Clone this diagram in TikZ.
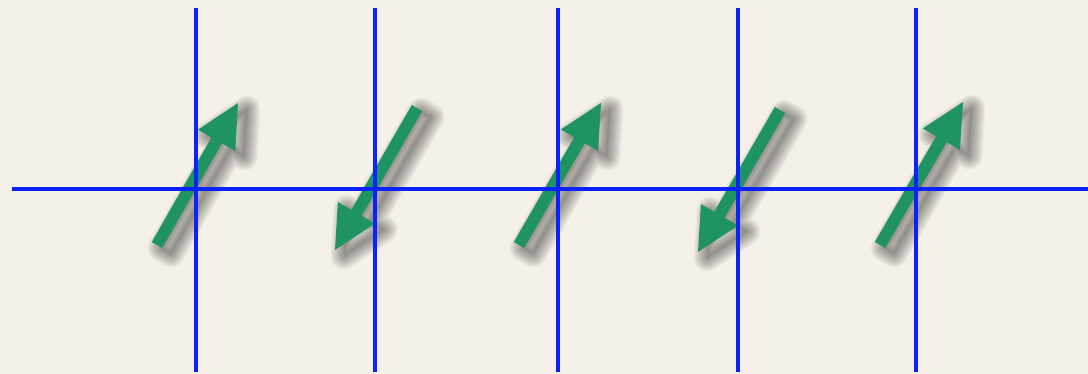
\documentclass[tikz,border=0pt]{standalone}
\usetikzlibrary{calc}
\definecolor{bg}{HTML}{F5F1EA}
\definecolor{spin}{HTML}{1F9462}
\definecolor{gridblue}{HTML}{0A22FF}
\tikzset{
  spinarrow/.style={fill=spin, draw=none},
  softshadow/.style={draw=black, draw opacity=0.032, line join=round, line width=#1},
  gridline/.style={draw=gridblue, line width=4.5pt}
}
\newcommand\spinpoly[2]{($(#1)!6pt!90:(#2)$) -- ($(b#1)!6pt!90:(#2)$) -- ($(b#1)!21.5pt!90:(#2)$)
    -- (#2) -- ($(b#1)!21.5pt!-90:(#2)$) -- ($(b#1)!6pt!-90:(#2)$) -- ($(#1)!6pt!-90:(#2)$) -- cycle}
\newcommand\spinarr[2]{%
  \path ($(#2)!43pt!(#1)$) coordinate (b#1);
  \begin{scope}[transform canvas={xshift=9pt, yshift=-6pt}]
    \fill[black, fill opacity=0.05] \spinpoly{#1}{#2};
    \foreach \w in {1,3,...,27} { \draw[softshadow=\w pt] \spinpoly{#1}{#2}; }
  \end{scope}
  \path[spinarrow] \spinpoly{#1}{#2};
}
\begin{document}
\begin{tikzpicture}[x=1pt,y=-1pt]
  \useasboundingbox (0,0) rectangle (1088,374);
  \fill[bg] (0,0) rectangle (1088,374);
  % arrows
  \coordinate (t1) at (157,245); \coordinate (h1) at (238,103);
  \coordinate (t2) at (417,108); \coordinate (h2) at (335,250);
  \coordinate (t3) at (519,245); \coordinate (h3) at (601,103);
  \coordinate (t4) at (780,110); \coordinate (h4) at (698,252);
  \coordinate (t5) at (880,245); \coordinate (h5) at (963,102);
  \spinarr{t1}{h1}
  \spinarr{t2}{h2}
  \spinarr{t3}{h3}
  \spinarr{t4}{h4}
  \spinarr{t5}{h5}
  % grid
  \coordinate (hl) at (12,189); \coordinate (hr) at (1088,189);
  \draw[gridline] (hl) -- (hr);
  \foreach \x [count=\i] in {196,375,558,738,916} {
    \coordinate (vt\i) at (\x,8); \coordinate (vb\i) at (\x,372);
    \draw[gridline] (vt\i) -- (vb\i);
  }
\end{tikzpicture}
\end{document}
